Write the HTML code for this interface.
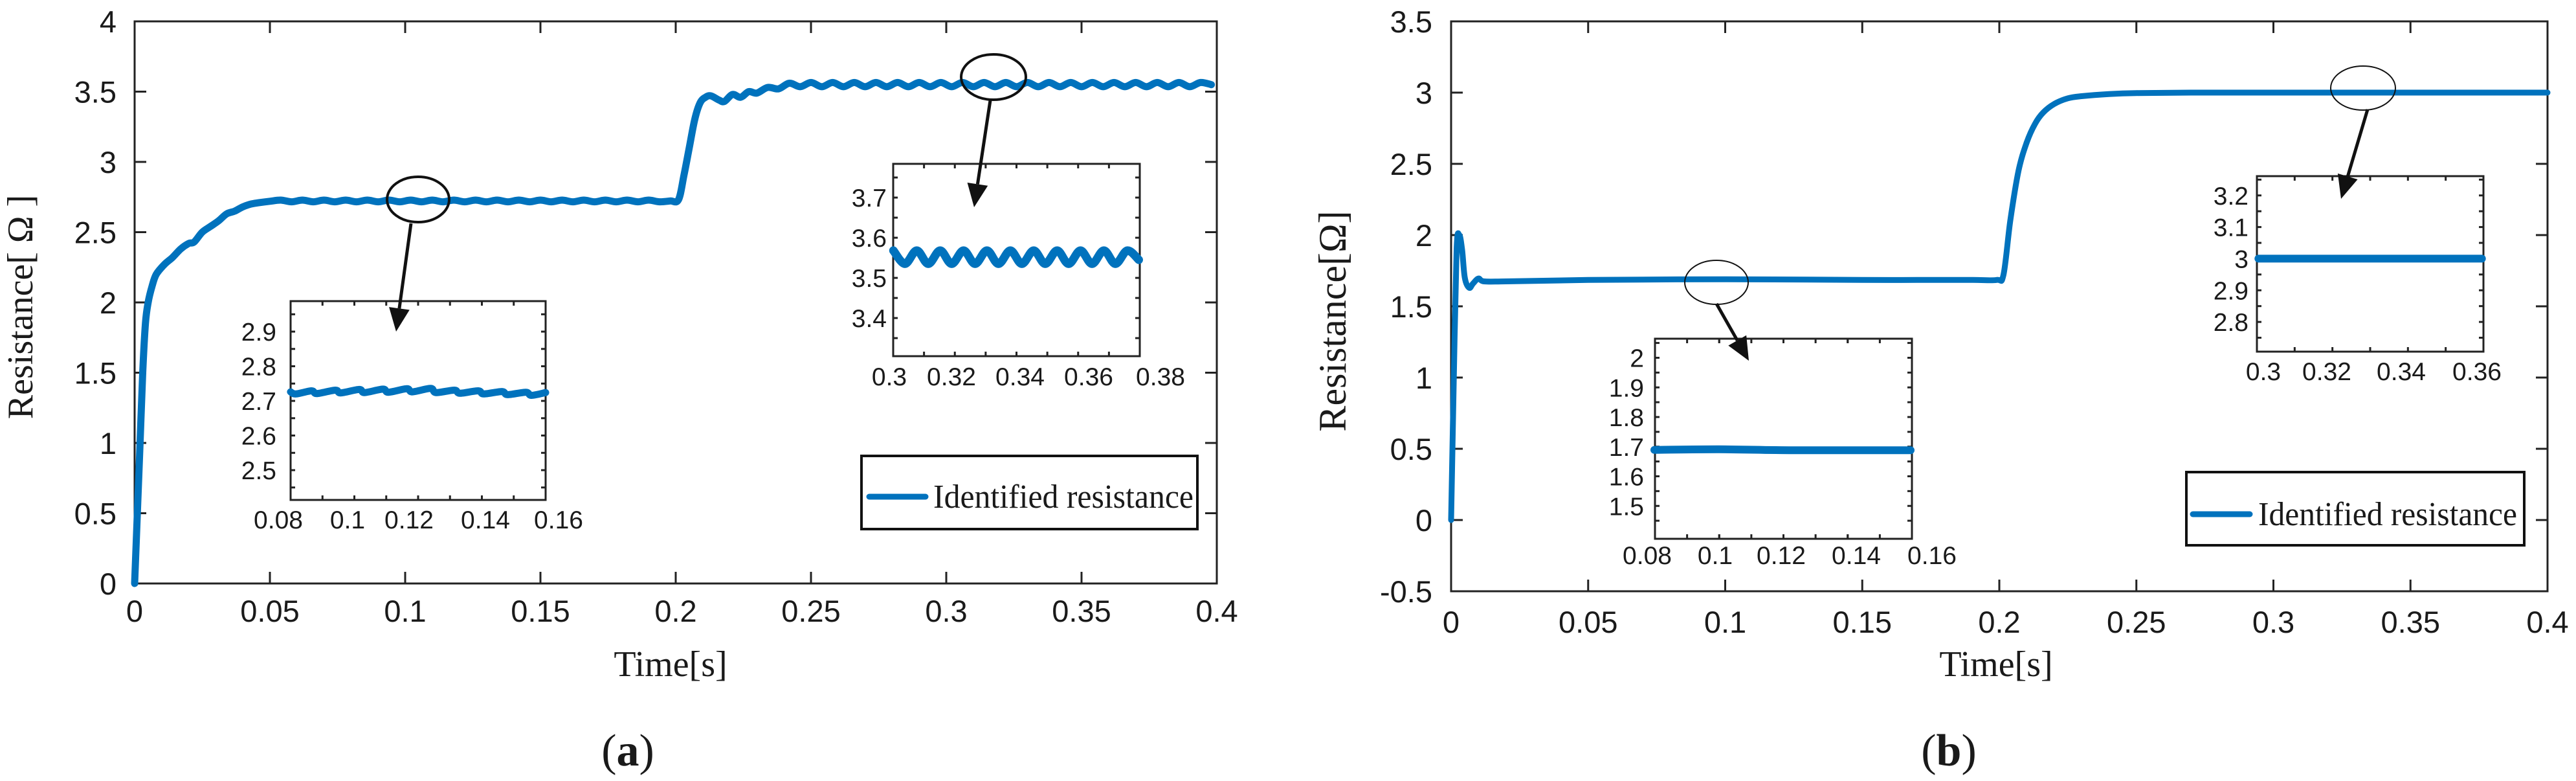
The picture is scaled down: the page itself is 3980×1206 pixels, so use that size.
<!DOCTYPE html>
<html><head><meta charset="utf-8"><style>
html,body{margin:0;padding:0;background:#fff;}
svg{display:block;}
text{fill:#1a1a1a;}
.tk{font-family:"Liberation Sans",sans-serif;}
.sf{font-family:"Liberation Serif",serif;}
</style></head><body>
<svg id="fig" width="3980" height="1206" viewBox="0 0 3980 1206" xmlns="http://www.w3.org/2000/svg">
<g id="pa"></g>
<g id="pb"></g>
</svg>
<script>
// ---- Panel (a) data ----
const aMainT=[0,0.001,0.002,0.003,0.004,0.005,0.0065,0.008,0.011,0.014,0.017,0.02,0.022,0.025,0.028,0.031,0.034,0.037,0.04,0.043,0.046,0.05,
0.054,0.058,0.062,0.066,0.070,0.074,0.078,0.082,0.086,0.090,0.094,0.098,0.102,0.106,0.110,0.114,0.118,0.122,0.126,0.130,0.134,0.138,0.142,0.146,0.150,0.154,0.158,0.162,0.166,0.170,0.174,0.178,0.182,0.186,0.190,0.194,0.198,
0.201,0.203,0.205,0.207,0.209,0.211,0.213,0.216,0.218,0.221,0.224,0.227,0.230,0.234,0.238,0.242,
0.246,0.250,0.254,0.258,0.262,0.266,0.270,0.274,0.278,0.282,0.286,0.290,0.294,0.298,0.302,0.306,0.310,0.314,0.318,0.322,0.326,0.330,0.334,0.338,0.342,0.346,0.350,0.354,0.358,0.362,0.366,0.370,0.374,0.378,0.382,0.386,0.390,0.394,0.398];
const aMainR=[0,0.5,1.0,1.5,1.85,2.0,2.12,2.2,2.27,2.32,2.38,2.42,2.43,2.5,2.54,2.58,2.63,2.65,2.68,2.7,2.71,2.72,
2.728,2.716,2.728,2.716,2.728,2.716,2.728,2.716,2.728,2.716,2.728,2.716,2.728,2.716,2.728,2.716,2.728,2.716,2.728,2.716,2.728,2.716,2.728,2.716,2.728,2.716,2.728,2.716,2.728,2.716,2.728,2.716,2.728,2.716,2.728,2.716,2.722,
2.73,2.9,3.1,3.3,3.42,3.46,3.47,3.44,3.43,3.48,3.46,3.5,3.49,3.53,3.52,3.56,
3.535,3.565,3.535,3.565,3.535,3.565,3.535,3.565,3.535,3.565,3.535,3.565,3.535,3.565,3.535,3.565,3.535,3.565,3.535,3.565,3.535,3.565,3.535,3.565,3.535,3.565,3.535,3.565,3.535,3.565,3.535,3.565,3.535,3.565,3.535,3.565,3.535,3.565,3.55];
const aIn1T=[0.0835,0.0850,0.0895,0.0910,0.0963,0.0978,0.1031,0.1046,0.1099,0.1114,0.1167,0.1182,0.1235,0.1250,0.1303,0.1318,0.1371,0.1386,0.1439,0.1454,0.1507,0.1522,0.1563];
const aIn1R=[2.726,2.720,2.729,2.721,2.731,2.723,2.733,2.724,2.734,2.725,2.735,2.726,2.736,2.724,2.731,2.722,2.729,2.720,2.727,2.718,2.725,2.716,2.724];
const aIn2T=[0.3012,0.3046,0.3081,0.3115,0.3150,0.3184,0.3219,0.3253,0.3288,0.3322,0.3357,0.3391,0.3426,0.3460,0.3495,0.3529,0.3564,0.3598,0.3633,0.3667,0.3702,0.3736];
const aIn2R=[3.568,3.535,3.568,3.535,3.568,3.535,3.568,3.535,3.568,3.535,3.568,3.535,3.568,3.535,3.568,3.535,3.568,3.535,3.568,3.535,3.568,3.545];
// ---- Panel (b) data ----
const bMainT=[0,0.001,0.002,0.003,0.004,0.005,0.0066,0.008,0.01,0.012,0.02,0.05,0.1,0.15,0.17,0.19,0.199,0.2015,0.204,0.207,0.21,0.213,0.216,0.22,0.225,0.23,0.24,0.25,0.27,0.3,0.35,0.4];
const bMainR=[0,1.0,1.9,2.0,1.9,1.7,1.63,1.66,1.695,1.675,1.675,1.685,1.69,1.685,1.685,1.685,1.685,1.72,2.1,2.45,2.65,2.78,2.86,2.92,2.96,2.975,2.99,2.997,3.0,3.0,3.0,3.0];
const bIn1T=[0.082,0.1,0.12,0.154];
const bIn1R=[1.689,1.691,1.688,1.688];
const bIn2T=[0.2986,0.33,0.3614];
const bIn2R=[3.0,3.0,3.0];
// ticks
const mainXTicks=[0,0.05,0.1,0.15,0.2,0.25,0.3,0.35,0.4];
const mainXLabels=["0","0.05","0.1","0.15","0.2","0.25","0.3","0.35","0.4"];
const aYTicks=[0,0.5,1,1.5,2,2.5,3,3.5,4];
const aYLabels=["0","0.5","1","1.5","2","2.5","3","3.5","4"];
const bYTicks=[-0.5,0,0.5,1,1.5,2,2.5,3,3.5];
const bYLabels=["-0.5","0","0.5","1","1.5","2","2.5","3","3.5"];
const aIn1YTicks=[2.5,2.6,2.7,2.8,2.9], aIn1YLabels=["2.5","2.6","2.7","2.8","2.9"];
const aIn1XTicks=[0.08,0.1,0.12,0.14,0.16], aIn1XLabels=["0.08","0.1","0.12","0.14","0.16"];
const aIn2YTicks=[3.4,3.5,3.6,3.7], aIn2YLabels=["3.4","3.5","3.6","3.7"];
const aIn2XTicks=[0.3,0.32,0.34,0.36,0.38], aIn2XLabels=["0.3","0.32","0.34","0.36","0.38"];
const bIn1YTicks=[1.5,1.6,1.7,1.8,1.9,2], bIn1YLabels=["1.5","1.6","1.7","1.8","1.9","2"];
const bIn1XTicks=[0.08,0.1,0.12,0.14,0.16], bIn1XLabels=["0.08","0.1","0.12","0.14","0.16"];
const bIn2YTicks=[2.8,2.9,3,3.1,3.2], bIn2YLabels=["2.8","2.9","3","3.1","3.2"];
const bIn2XTicks=[0.3,0.32,0.34,0.36], bIn2XLabels=["0.3","0.32","0.34","0.36"];

const NS="http://www.w3.org/2000/svg";
const BLUE="#0072BD";
function mk(tag,attrs,parent){const e=document.createElementNS(NS,tag);for(const k in attrs)e.setAttribute(k,attrs[k]);parent.appendChild(e);return e;}
function lin(d0,d1,p0,p1){return v=>p0+(v-d0)/(d1-d0)*(p1-p0);}
function smoothPath(pts){
  let d="M"+pts[0][0].toFixed(1)+","+pts[0][1].toFixed(1);
  for(let i=0;i<pts.length-1;i++){
    const p0=pts[Math.max(0,i-1)],p1=pts[i],p2=pts[i+1],p3=pts[Math.min(pts.length-1,i+2)];
    const c1x=p1[0]+(p2[0]-p0[0])/6,c1y=p1[1]+(p2[1]-p0[1])/6;
    const c2x=p2[0]-(p3[0]-p1[0])/6,c2y=p2[1]-(p3[1]-p1[1])/6;
    d+=" C"+c1x.toFixed(1)+","+c1y.toFixed(1)+" "+c2x.toFixed(1)+","+c2y.toFixed(1)+" "+p2[0].toFixed(1)+","+p2[1].toFixed(1);
  }
  return d;
}
function axes(g,c){
  const x=lin(c.xd[0],c.xd[1],c.x0,c.x1), y=lin(c.yd[0],c.yd[1],c.y0,c.y1);
  const box=mk('rect',{x:c.x0,y:c.y1,width:c.x1-c.x0,height:c.y0-c.y1,fill:'none',stroke:'#222','stroke-width':c.sw},g);
  
  
  const tg=mk('g',{stroke:'#222','stroke-width':c.sw},g);
  
  
  c.xt.forEach(v=>{const px=x(v);if(px<c.x0-1||px>c.x1+1)return;
    mk('line',{x1:px,x2:px,y1:c.y0,y2:c.y0-c.tl},tg);mk('line',{x1:px,x2:px,y1:c.y1,y2:c.y1+c.tl},tg);});
  c.yt.forEach(v=>{const py=y(v);if(py<c.y1-1||py>c.y0+1)return;
    mk('line',{x1:c.x0,x2:c.x0+c.tl,y1:py,y2:py},tg);mk('line',{x1:c.x1,x2:c.x1-c.tl,y1:py,y2:py},tg);});
  if(c.minor){c.minor.forEach(v=>{const px=x(v);if(px<c.x0||px>c.x1)return;
    mk('line',{x1:px,x2:px,y1:c.y0,y2:c.y0-c.tl},tg);mk('line',{x1:px,x2:px,y1:c.y1,y2:c.y1+c.tl},tg);});}
  if(c.minorY){c.minorY.forEach(v=>{const py=y(v);if(py<c.y1||py>c.y0)return;
    mk('line',{x1:c.x0,x2:c.x0+c.tl,y1:py,y2:py},tg);mk('line',{x1:c.x1,x2:c.x1-c.tl,y1:py,y2:py},tg);});}
  c.xt.forEach((v,i)=>{
    const px=c.xlx?c.xlx[i]:x(v);
    const t=mk('text',{x:px,y:c.xly,'text-anchor':'middle','font-size':c.fs,class:'tk'},g);
    
    
    t.textContent=c.xl[i];});
  c.yt.forEach((v,i)=>{
    const t=mk('text',{x:c.ylx,y:y(v)+c.fs*0.36,'text-anchor':'end','font-size':c.fs,class:'tk'},g);
    
    
    t.textContent=c.yl[i];});
  return {x,y};
}
function series(g,s,T,R,w,name){
  const pts=T.map((t,i)=>[s.x(t),s.y(R[i])]);
  const p=mk('path',{d:smoothPath(pts),fill:'none',stroke:BLUE,'stroke-width':w,'stroke-linecap':'round','stroke-linejoin':'round'},g);
  
  
}
function callout(g,cx,cy,rx,ry,sw,x1,y1,x2,y2,name){
  const e=mk('ellipse',{cx,cy,rx,ry,fill:'none',stroke:'#111','stroke-width':sw},g);
  
  
  const dx=x2-x1,dy=y2-y1,L=Math.hypot(dx,dy),ux=dx/L,uy=dy/L,hl=36,hw=16;
  const bx=x2-ux*hl,by=y2-uy*hl;
  const l=mk('line',{x1,y1,x2:bx,y2:by,stroke:'#111','stroke-width':5},g);
  
  
  const h=mk('polygon',{points:`${x2},${y2} ${bx-uy*hw},${by+ux*hw} ${bx+uy*hw},${by-ux*hw}`,fill:'#111'},g);
  
  
}
function legend(g,x0,y0,x1,y1,lx0,lx1,ly,tx,tw,name){
  const lg=mk('g',{},g);
  
  
  mk('rect',{x:x0,y:y0,width:x1-x0,height:y1-y0,fill:'#fff',stroke:'#111','stroke-width':4},lg);
  mk('line',{x1:lx0,x2:lx1,y1:ly,y2:ly,stroke:BLUE,'stroke-width':9,'stroke-linecap':'round'},lg);
  const t=mk('text',{x:tx,y:ly+17,'font-size':52,class:'sf',textLength:tw,lengthAdjust:'spacingAndGlyphs'},lg);
  
  
  t.textContent='Identified resistance';
}
function label(g,x,y,fs,rot,name){
  const t=mk('text',{x,y,'font-size':fs,'text-anchor':'middle',class:'sf'},g);
  if(rot)t.setAttribute('transform',`rotate(-90 ${x} ${y})`);
  
  
  return t;
}
function range(a,b,s){const r=[];for(let v=a;v<=b+1e-9;v+=s)r.push(+v.toFixed(5));return r;}

// ===== Panel a =====
const ga=document.getElementById('pa');
const sa=axes(ga,{name:'a-main',x0:208,x1:1880,y0:901,y1:33,xd:[0,0.4],yd:[0,4],xt:mainXTicks,xl:mainXLabels,yt:aYTicks,yl:aYLabels,tl:18,sw:3,fs:47,xly:960,ylx:180});
series(ga,sa,aMainT,aMainR,11,'a-main-curve');
const sa1=axes(ga,{name:'a-inset1',x0:449,x1:843,y0:772,y1:465,xd:[0.08,0.16],yd:[2.414,2.988],xt:aIn1XTicks,xl:aIn1XLabels,yt:aIn1YTicks,yl:aIn1YLabels,tl:7,sw:3,fs:39,xly:816,ylx:427,xlx:[430,537,632,750,863],minor:range(0.09,0.15,0.01),minorY:range(2.45,2.95,0.1)});
const a1x=lin(0.08,0.16,430,863);
series(ga,{x:a1x,y:sa1.y},aIn1T,aIn1R,11,'a-inset1-curve');
const sa2=axes(ga,{name:'a-inset2',x0:1380,x1:1761,y0:550,y1:253,xd:[0.3,0.38],yd:[3.305,3.784],xt:aIn2XTicks,xl:aIn2XLabels,yt:aIn2YTicks,yl:aIn2YLabels,tl:7,sw:3,fs:39,xly:595,ylx:1370,xlx:[1374,1470,1576,1682,1793],minor:range(0.31,0.37,0.02),minorY:range(3.35,3.75,0.1)});
const a2x=lin(0.3,0.38,1374,1793);
series(ga,{x:a2x,y:sa2.y},aIn2T,aIn2R,13,'a-inset2-curve');
callout(ga,646,308,48,35,4,635,345,612,512,'a-callout1');
callout(ga,1535,119,50,35,4,1530,155,1505,320,'a-callout2');
legend(ga,1331,704,1850,817,1343,1430,767,1442,402,'a-legend');
label(ga,50,474,56,true,'a-y-axis-title').textContent='Resistance[ Ω ]';
label(ga,1036,1044,56,false,'a-x-axis-title').textContent='Time[s]';
label(ga,970,1182,70,false,'a-caption').innerHTML='(<tspan font-weight="bold">a</tspan>)';

// ===== Panel b =====
const gb=document.getElementById('pb');
const sb=axes(gb,{name:'b-main',x0:2242,x1:3936,y0:913,y1:33,xd:[0,0.4],yd:[-0.5,3.5],xt:mainXTicks,xl:mainXLabels,yt:bYTicks,yl:bYLabels,tl:18,sw:3,fs:47,xly:977,ylx:2213});
series(gb,sb,bMainT,bMainR,9,'b-main-curve');
const sb1=axes(gb,{name:'b-inset1',x0:2557,x1:2954,y0:832,y1:523,xd:[0.08,0.16],yd:[1.389,2.0644],xt:bIn1XTicks,xl:bIn1XLabels,yt:bIn1YTicks,yl:bIn1YLabels,tl:7,sw:3,fs:39,xly:871,ylx:2540,xlx:[2545,2650,2752,2868,2985],minor:range(0.09,0.15,0.01),minorY:range(1.45,2.05,0.1)});
const b1x=lin(0.08,0.16,2545,2985);
series(gb,{x:b1x,y:sb1.y},bIn1T,bIn1R,12,'b-inset1-curve');
const sb2=axes(gb,{name:'b-inset2',x0:3487,x1:3837,y0:543,y1:272,xd:[0.3,0.36],yd:[2.706,3.261],xt:bIn2XTicks,xl:bIn2XLabels,yt:bIn2YTicks,yl:bIn2YLabels,tl:7,sw:3,fs:39,xly:587,ylx:3474,xlx:[3497,3595,3710,3827],minor:range(0.31,0.35,0.02),minorY:range(2.75,3.25,0.1)});
const b2x=lin(0.3,0.36,3497,3827);
series(gb,{x:b2x,y:sb2.y},bIn2T,bIn2R,12,'b-inset2-curve');
callout(gb,2652,436,49,34,2,2652,469,2702,557,'b-callout1');
callout(gb,3651,136,50,34,2,3658,169,3617,307,'b-callout2');
legend(gb,3378,729,3900,842,3388,3476,794,3489,400,'b-legend');
label(gb,2079,496,60,true,'b-y-axis-title').textContent='Resistance[Ω]';
label(gb,3084,1044,56,false,'b-x-axis-title').textContent='Time[s]';
label(gb,3011,1182,70,false,'b-caption').innerHTML='(<tspan font-weight="bold">b</tspan>)';
</script>
</body></html>
